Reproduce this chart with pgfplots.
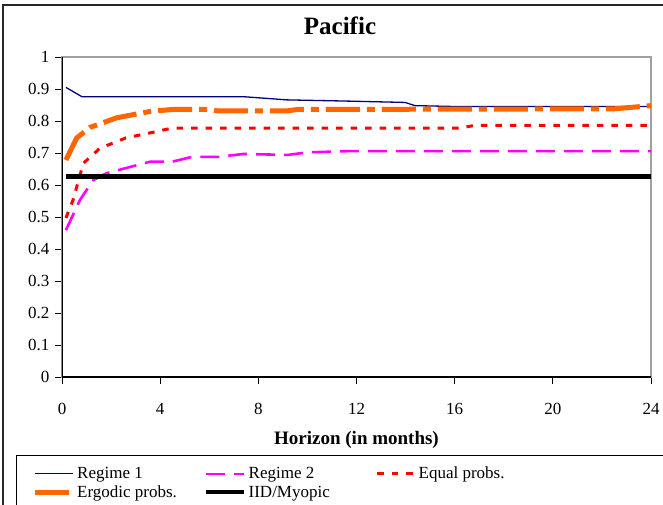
\documentclass[border=0pt]{standalone}
\usepackage{fontspec}
\setmainfont{Liberation Serif}
\usepackage{pgfplots}
\pgfplotsset{compat=1.18}
\definecolor{navyR}{HTML}{000080}
\definecolor{orangeE}{HTML}{FF6600}
\definecolor{magR}{HTML}{FF00FF}
\definecolor{redE}{HTML}{FF0000}
\definecolor{frameg}{HTML}{A0A0A0}
\begin{document}
\begin{tikzpicture}
\useasboundingbox (-62pt,-128pt) rectangle (601pt,377pt);
\draw[line width=1.8pt, black!85] (-59pt,372pt) rectangle (720pt,-220pt);
\draw[line width=1pt] (-45pt,-78pt) rectangle (720pt,-220pt);
\begin{axis}[
 at={(0pt,0pt)}, anchor=south west, scale only axis, width=589pt, height=320pt,
 xmin=0, xmax=24, ymin=0, ymax=1,
 xtick={0,4,8,12,16,20,24},
 ytick={0,0.1,0.2,0.3,0.4,0.5,0.6,0.7,0.8,0.9,1},
 tick pos=left, tick align=outside, major tick length=7pt,
 tick style={black, line width=0.8pt},
 axis line style={frameg, line width=1.5pt},
 /pgf/number format/assume math mode=true,
 ticklabel style={font=\fontsize{17}{20}\selectfont},
 yticklabel style={xshift=-2pt},
 xticklabel style={yshift=-16pt},
 xlabel={\textbf{Horizon (in months)}},
 x label style={at={(axis description cs:0.5,-0.197)}, anchor=center, font=\fontsize{19}{22}\selectfont},
 title={\textbf{Pacific}},
 title style={at={(axis description cs:0.472,1.078)}, anchor=center, font=\fontsize{25}{28}\selectfont},
 legend columns=3,
 legend cell align=left,
 legend style={at={(axis description cs:-0.051,-0.275)}, anchor=north west, draw=none, fill=none, inner sep=0pt, column sep=0pt, row sep=1pt, font=\fontsize{17}{20}\selectfont},
 legend image code/.code={\draw[#1] (0pt,0pt) -- (38pt,0pt);},
]
\addplot[navyR, line width=1.3pt] coordinates {
(0.16,0.905) (0.81,0.876) (7.38,0.876) (9.17,0.866) (11.74,0.862) (13.98,0.858) (14.38,0.848) (16.2,0.845) (24,0.845)};
\addlegendentry{\makebox[125pt][l]{Regime 1}}
\addplot[magR, line width=2.6pt, dash pattern=on 19pt off 9pt] coordinates {
(0.16,0.459) (0.73,0.553) (1.27,0.615) (1.82,0.637) (3.6,0.673) (4.5,0.673) (5.3,0.688) (6.4,0.688) (7.4,0.697) (9.2,0.694) (10,0.702) (11.74,0.706) (24,0.706)};
\addlegendentry{\makebox[125pt][l]{Regime 2}}
\addplot[redE, line width=3pt, dash pattern=on 6.5pt off 8pt] coordinates {
(0.16,0.497) (0.45,0.553) (0.87,0.668) (1.55,0.715) (2.6,0.747) (3.6,0.763) (4.5,0.778) (16.2,0.778) (16.8,0.786) (24,0.786)};
\addlegendentry{Equal probs.}
\addplot[orangeE, line width=5pt, dash pattern=on 34pt off 7pt on 8pt off 7pt] coordinates {
(0.16,0.678) (0.6,0.747) (1.14,0.78) (2.23,0.81) (3.6,0.83) (4.5,0.836) (6,0.836) (6.3,0.832) (9.2,0.832) (9.6,0.836) (22.5,0.838) (24,0.848)};
\addlegendentry{\makebox[125pt][l]{Ergodic probs.}}
\addplot[black, line width=4.5pt] coordinates {(0.16,0.627) (24,0.627)};
\addlegendentry{\makebox[125pt][l]{IID/Myopic}}
\draw[black, line width=1.2pt] (rel axis cs:0,0) -- (rel axis cs:1,0);
\draw[black, line width=1.2pt] (rel axis cs:0,0) -- (rel axis cs:0,1);
\end{axis}
\end{tikzpicture}
\end{document}
